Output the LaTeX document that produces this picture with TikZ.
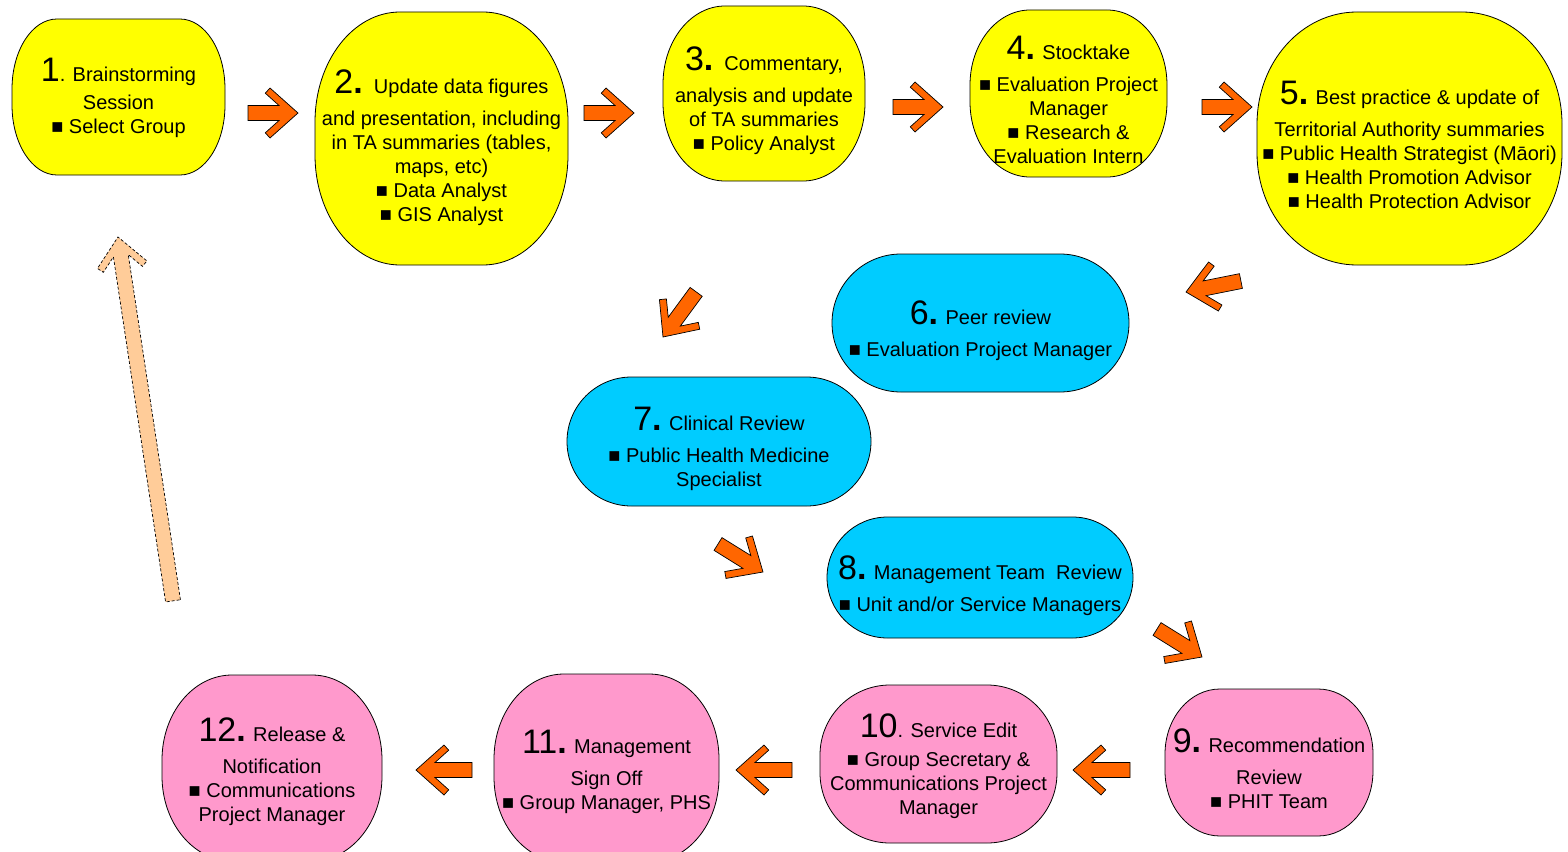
\documentclass[tikz,border=0pt]{standalone}
\usepackage{fontspec}
\setmainfont{Liberation Sans}
\usepackage{xcolor}
\usepackage{tikz}
\usetikzlibrary{calc}

\definecolor{stepyellow}{HTML}{FFFF00}
\definecolor{stepcyan}{HTML}{00CCFF}
\definecolor{steppink}{HTML}{FF99CC}
\definecolor{arroworange}{HTML}{FF6600}
\definecolor{arrowpeach}{HTML}{FFCC99}

\tikzset{
  steptext/.style={font=\fontsize{20}{24}\selectfont, align=center, anchor=north, inner sep=0pt},
  orangearrow/.style={fill=arroworange, draw=black, line width=0.7pt, line join=miter},
  peacharrow/.style={fill=arrowpeach, draw=black, line width=0.7pt, densely dashed}
}

% big step number
\newcommand\stepnum[1]{{\fontsize{34}{24}\selectfont #1}}
\newcommand\bdot{\textbf{.}}
% box with elliptic corners: centre, half width, half height, rx, ry, colour
\newcommand\stepshape[6]{%
  \filldraw[fill=#6, draw=black, line width=0.8pt, shift={(#1)}]
    (-#2+#4,-#3) -- (#2-#4,-#3) arc[start angle=-90, end angle=0, x radius=#4, y radius=#5]
    -- (#2,#3-#5) arc[start angle=0, end angle=90, x radius=#4, y radius=#5]
    -- (-#2+#4,#3) arc[start angle=90, end angle=180, x radius=#4, y radius=#5]
    -- (-#2,-#3+#5) arc[start angle=180, end angle=270, x radius=#4, y radius=#5] -- cycle;}
% block arrow: style, tip, angle, length
\newcommand\blockarrow[4][orangearrow]{%
  \filldraw[#1, shift={(#2)}, rotate=#3]
    (-#4,7.5) -- (-19,7.5) -- (-32.7,19.8) -- (-28,25) -- (0,0)
    -- (-28,-25) -- (-32.7,-19.8) -- (-19,-7.5) -- (-#4,-7.5) -- cycle;}

\begin{document}
\begin{tikzpicture}[x=1pt,y=-1pt]
  \useasboundingbox (0,0) rectangle (1568,851);
  \clip (0,0) rectangle (1568,851);
  % Row 1 (yellow)
  \stepshape{118.5,97}{106.5}{78}{45}{70}{stepyellow}
  \stepshape{441.5,138.5}{126.5}{126.5}{85}{110}{stepyellow}
  \stepshape{764,93.5}{101}{87.5}{62}{78}{stepyellow}
  \stepshape{1068.5,93.5}{98.5}{83.5}{60}{75}{stepyellow}
  \stepshape{1409.5,138.5}{152.5}{126.5}{100}{112}{stepyellow}
  % Row 2 (cyan)
  \stepshape{980.5,323}{148.5}{69}{69}{69}{stepcyan}
  \stepshape{719,441.5}{152}{64.5}{64.5}{64.5}{stepcyan}
  \stepshape{980,577.5}{153}{60.5}{60.5}{60.5}{stepcyan}
  % Row 3 (pink)
  \stepshape{1269,762.5}{104}{73.5}{55}{65}{steppink}
  \stepshape{938.5,764}{118.5}{79}{70}{70}{steppink}
  \stepshape{606.5,768}{112.5}{94}{70}{85}{steppink}
  \stepshape{272,768}{110}{93}{70}{85}{steppink}

  % Texts
  \node[steptext] (s1) at (118.5,58) {\stepnum{1}. Brainstorming\\[4pt] Session\\ ■ Select Group};
  \node[steptext] (s2) at (441.5,70) {\stepnum{2\bdot}\ \ Update data figures\\[8pt] and presentation, including\\ in TA summaries (tables,\\ maps, etc)\\ ■ Data Analyst\\ ■ GIS Analyst};
  \node[steptext] (s3) at (764,47) {\stepnum{3\bdot}\ \ Commentary,\\[8pt] analysis and update\\ of TA summaries\\ ■ Policy Analyst};
  \node[steptext] (s4) at (1068.5,36) {\stepnum{4\bdot} Stocktake\\[8pt] ■ Evaluation Project\\ Manager\\ ■ Research \&\\ Evaluation Intern};
  \node[steptext] (s5) at (1409.5,81) {\stepnum{5\bdot} Best practice \& update of\\[8pt] Territorial Authority summaries\\ ■ Public Health Strategist (Māori)\\ ■ Health Promotion Advisor\\ ■ Health Protection Advisor};
  \node[steptext] (s6) at (980.5,301) {\stepnum{6\bdot} Peer review\\[8pt] ■ Evaluation Project Manager};
  \node[steptext] (s7) at (719,407) {\stepnum{7\bdot} Clinical Review\\[8pt] ■ Public Health Medicine\\ Specialist};
  \node[steptext] (s8) at (980,556) {\stepnum{8\bdot} Management Team\ \ Review\\[8pt] ■ Unit and/or Service Managers};
  \node[steptext] (s9) at (1269,729) {\stepnum{9\bdot} Recommendation\\[8pt] Review\\ ■ PHIT Team};
  \node[steptext] (s10) at (938.5,714) {\stepnum{10}. Service Edit\\[5pt] ■ Group Secretary \&\\ Communications Project\\ Manager};
  \node[steptext] (s11) at (606.5,730) {\stepnum{11\bdot} Management\\[8pt] Sign Off\\ ■ Group Manager, PHS};
  \node[steptext] (s12) at (272,718) {\stepnum{12\bdot} Release \&\\[8pt] Notification\\ ■ Communications\\ Project Manager};

  % Arrows between steps
  \blockarrow{298,113}{0}{50}
  \blockarrow{634,113}{0}{50}
  \blockarrow{943,107}{0}{50}
  \blockarrow{1252,107}{0}{50}
  \blockarrow{1186,292}{191.3}{56}
  \blockarrow{663,337}{233.7}{56}
  \blockarrow{763,572}{-31.9}{53}
  \blockarrow{1202,657}{-31.9}{53}
  \blockarrow{1073,770}{180}{57}
  \blockarrow{736,770}{180}{56}
  \blockarrow{416,770}{180}{56}
  % Back to step 1
  \blockarrow[peacharrow]{118,237}{98.6}{368}
\end{tikzpicture}
\end{document}
